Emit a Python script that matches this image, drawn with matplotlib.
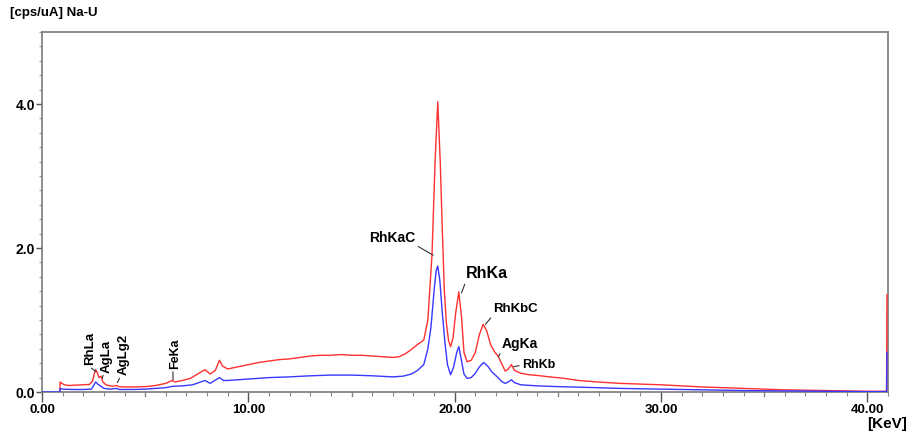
import matplotlib
matplotlib.use("Agg")
import matplotlib.pyplot as plt
from matplotlib.ticker import MultipleLocator, FixedLocator

# ---------------- data ----------------
red_E = [0.86, 0.88, 0.95, 1.1, 1.3, 1.6, 2.0, 2.3, 2.45, 2.52, 2.6, 2.68, 2.76, 2.86, 2.95,
         3.1, 3.4, 3.62, 3.72, 4.0, 4.5, 5.0, 5.5, 6.0, 6.3, 6.45, 6.8, 7.2, 7.6, 7.9, 8.15,
         8.4, 8.6, 8.75, 9.0, 9.5, 10.0, 10.5, 11.0, 11.5, 12.0, 12.5, 13.0, 13.5, 14.0, 14.5,
         15.0, 15.5, 16.0, 16.5, 17.0, 17.3, 17.6, 17.9, 18.2, 18.5, 18.7, 18.9, 19.05, 19.18,
         19.3, 19.4, 19.5, 19.6, 19.7, 19.8, 19.92, 20.05, 20.2, 20.33, 20.45, 20.6, 20.8,
         21.0, 21.2, 21.38, 21.55, 21.75, 21.95, 22.1, 22.3, 22.45, 22.6, 22.75, 22.9, 23.2,
         23.6, 24.0, 24.6, 25.3, 26.0, 26.9, 28.0, 29.0, 30.0, 31.0, 32.0, 33.0, 34.0, 35.0,
         36.0, 37.0, 38.0, 39.0, 40.0, 40.93, 40.95]
red_V = [0.0, 0.14, 0.12, 0.10, 0.09, 0.095, 0.10, 0.105, 0.15, 0.24, 0.31, 0.27, 0.20, 0.22, 0.14,
         0.10, 0.08, 0.09, 0.075, 0.07, 0.07, 0.075, 0.09, 0.12, 0.16, 0.14, 0.16, 0.19, 0.26, 0.31, 0.25,
         0.30, 0.44, 0.36, 0.32, 0.35, 0.38, 0.41, 0.43, 0.45, 0.46, 0.48, 0.50, 0.51, 0.51, 0.52,
         0.51, 0.51, 0.50, 0.49, 0.48, 0.49, 0.53, 0.59, 0.66, 0.72, 1.0, 1.9, 3.2, 4.03,
         3.2, 2.25, 1.4, 0.95, 0.72, 0.63, 0.75, 1.1, 1.39, 1.05, 0.55, 0.42, 0.44,
         0.55, 0.80, 0.94, 0.85, 0.65, 0.55, 0.50, 0.38, 0.29, 0.32, 0.38, 0.30, 0.26,
         0.24, 0.23, 0.21, 0.19, 0.16, 0.14, 0.12, 0.11, 0.10, 0.085, 0.07, 0.06, 0.05, 0.04,
         0.03, 0.025, 0.02, 0.015, 0.01, 0.01, 1.35]

blue_E = [0.0, 0.86, 0.88, 1.0, 1.5, 2.0, 2.4, 2.52, 2.6, 2.7, 2.85, 3.0, 3.3, 3.62, 3.75, 4.5,
          5.0, 5.5, 6.0, 6.35, 6.8, 7.3, 7.9, 8.15, 8.6, 8.8, 9.0, 10.0, 11.0, 12.0, 13.0, 14.0,
          15.0, 16.0, 17.0, 17.5, 17.9, 18.2, 18.5, 18.7, 18.85, 19.0, 19.1, 19.18, 19.28, 19.4,
          19.53, 19.65, 19.8, 19.95, 20.1, 20.2, 20.32, 20.45, 20.6, 20.8, 21.0, 21.2, 21.4,
          21.6, 21.8, 22.1, 22.3, 22.45, 22.6, 22.75, 22.9, 23.2, 24.0, 25.0, 26.9, 28.0, 30.0,
          32.0, 34.0, 36.0, 38.0, 40.0, 40.93, 40.95]
blue_V = [0.0, 0.0, 0.05, 0.04, 0.035, 0.035, 0.04, 0.10, 0.14, 0.11, 0.08, 0.05, 0.04, 0.05, 0.035, 0.035,
          0.04, 0.05, 0.06, 0.08, 0.085, 0.10, 0.16, 0.12, 0.20, 0.16, 0.16, 0.18, 0.20, 0.21, 0.225, 0.235,
          0.235, 0.225, 0.21, 0.22, 0.25, 0.30, 0.38, 0.60, 0.90, 1.40, 1.68, 1.75, 1.55, 1.10,
          0.68, 0.38, 0.24, 0.35, 0.55, 0.63, 0.45, 0.25, 0.19, 0.20, 0.26, 0.35, 0.41,
          0.36, 0.28, 0.20, 0.14, 0.12, 0.14, 0.17, 0.13, 0.10, 0.085, 0.075, 0.06, 0.05, 0.04,
          0.03, 0.02, 0.015, 0.01, 0.005, 0.005, 0.55]

x_tick_values = [0, 10, 20, 30, 40]
x_tick_labels = ["0.00", "10.00", "20.00", "30.00", "40.00"]
y_tick_values = [0, 2, 4]
y_tick_labels = ["0.0", "2.0", "4.0"]

# element labels: name, leader end (energy, value), label position (energy, value)
vert_labels = ["RhLa", "AgLa", "AgLg2", "FeKa"]
vert_peak = [(2.62, 0.28), (2.92, 0.19), (3.65, 0.13), (6.35, 0.17)]
vert_text = [(2.34, 0.37), (3.12, 0.27), (3.95, 0.23), (6.46, 0.32)]
vert_size = [9.5, 9.5, 9.5, 9]

horiz_labels = ["RhKaC", "RhKa", "RhKbC", "AgKa", "RhKb"]
horiz_peak = [(18.96, 1.90), (20.33, 1.375), (21.49, 0.94), (22.12, 0.49), (22.85, 0.35)]
horiz_text = [(16.98, 2.14), (21.56, 1.64), (22.94, 1.15), (23.14, 0.67), (24.06, 0.375)]
horiz_size = [10, 11.5, 9.5, 10, 9]
horiz_relpos = [(1.0, 0.0), (0.0, 0.0), (0.0, 0.0), (0.0, 0.0), (0.0, 0.5)]

# ---------------- figure ----------------
plt.rcParams["font.family"] = ["Liberation Sans", "DejaVu Sans"]
fig = plt.figure(figsize=(9.09, 4.33), dpi=100)
ax = fig.add_axes([42 / 909, 41 / 433, 846 / 909, 360 / 433])

ax.plot(red_E, red_V, color="#ff3030", lw=1.0, zorder=3)
ax.plot(blue_E, blue_V, color="#3838ff", lw=1.0, zorder=4)

ax.set_xlim(0, 41.0)
ax.set_ylim(0, 5.0)

for s in ax.spines.values():
    s.set_color("#7a7a7a")
    s.set_linewidth(1.2)

ax.xaxis.set_major_locator(FixedLocator(x_tick_values))
ax.set_xticklabels(x_tick_labels, fontsize=9.5, fontweight="bold")
ax.xaxis.set_minor_locator(MultipleLocator(1))
ax.tick_params(axis="x", which="major", direction="out", length=7, width=1, color="#555555", pad=1.5)
ax.tick_params(axis="x", which="minor", direction="out", length=3, width=0.8, color="#888888")

ax.yaxis.set_major_locator(FixedLocator(y_tick_values))
ax.set_yticklabels(y_tick_labels, fontsize=10, fontweight="bold")
ax.yaxis.set_minor_locator(MultipleLocator(0.2))
ax.tick_params(axis="y", which="major", direction="out", length=4, width=1, color="#555555", pad=1)
ax.tick_params(axis="y", which="minor", direction="out", length=2, width=0.8, color="#999999")

# medium ticks at every 5 keV
for e in [5, 15, 25, 35]:
    ax.plot([e, e], [0, -0.06], color="#777777", lw=0.9, clip_on=False, zorder=1)

fig.text(10 / 909, 1 - 13 / 433, "[cps/uA] Na-U", fontsize=9.5,
         fontweight="bold", ha="left", va="center")
fig.text(907 / 909, 1 - 424 / 433, "[KeV]", fontsize=11,
         fontweight="bold", ha="right", va="center")

for name, xy, xt, fs in zip(vert_labels, vert_peak, vert_text, vert_size):
    ax.annotate(name, xy=xy, xytext=xt, rotation=90, ha="center", va="bottom",
                fontsize=fs, fontweight="bold",
                arrowprops=dict(arrowstyle="-", color="#333333", lw=0.8, relpos=(0.3, 0.0),
                                shrinkA=0, shrinkB=0))

for name, xy, xt, fs, rp in zip(horiz_labels, horiz_peak, horiz_text, horiz_size, horiz_relpos):
    ax.annotate(name, xy=xy, xytext=xt, ha="center", va="center",
                fontsize=fs, fontweight="bold",
                arrowprops=dict(arrowstyle="-", color="#333333", lw=0.8, relpos=rp,
                                shrinkA=0, shrinkB=0))

fig.savefig("out.png", dpi=100)
